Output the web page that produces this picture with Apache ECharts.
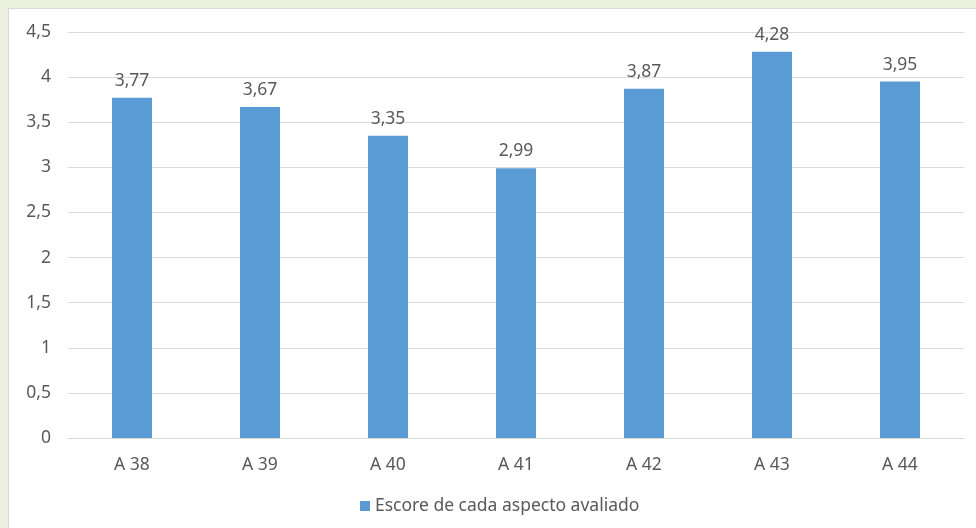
<!DOCTYPE html>
<html>
<head>
<meta charset="utf-8">
<script src="https://cdn.jsdelivr.net/npm/echarts@6/dist/echarts.min.js"></script>
<style>
  html, body { margin: 0; padding: 0; width: 976px; height: 528px; overflow: hidden; background: #ebf1de; }
  #panel { position: absolute; left: 8px; top: 8px; width: 980px; height: 540px; background: #ffffff; border: 1px solid #d9d9d9; }
  #chart { position: absolute; left: 0; top: 0; width: 976px; height: 528px; }
</style>
</head>
<body>
<div id="panel"></div>
<div id="chart"></div>
<script>
// Score of each evaluated aspect
const categories = ['A 38', 'A 39', 'A 40', 'A 41', 'A 42', 'A 43', 'A 44'];
const scores = [3.77, 3.67, 3.35, 2.99, 3.87, 4.28, 3.95];
const seriesName = 'Escore de cada aspecto avaliado';

const textColor = '#595959';
const fontFamily = '"Noto Sans", "Open Sans", sans-serif';
const fontSize = 17.5;
const comma = v => String(v).replace('.', ',');

const chart = echarts.init(document.getElementById('chart'), null, { renderer: 'canvas' });
chart.setOption({
  backgroundColor: 'transparent',
  animation: false,
  textStyle: { fontFamily: fontFamily },
  grid: { left: 68, top: 32, width: 896, height: 406, containLabel: false },
  legend: {
    left: 355,
    top: 492,
    itemWidth: 10,
    itemHeight: 10,
    itemGap: 10,
    icon: 'rect',
    textStyle: { color: textColor, fontSize: fontSize, fontFamily: fontFamily },
    data: [seriesName]
  },
  xAxis: {
    type: 'category',
    data: categories,
    axisLine: { lineStyle: { color: '#d9d9d9', width: 1 } },
    axisTick: { show: false },
    axisLabel: { color: textColor, fontSize: fontSize, margin: 18, fontFamily: fontFamily }
  },
  yAxis: {
    type: 'value',
    min: 0,
    max: 4.5,
    interval: 0.5,
    axisLine: { show: false },
    axisTick: { show: false },
    splitLine: { lineStyle: { color: '#d9d9d9', width: 1 } },
    axisLabel: { color: textColor, fontSize: fontSize, margin: 17, fontFamily: fontFamily, formatter: v => comma(v) }
  },
  series: [{
    name: seriesName,
    type: 'bar',
    data: scores,
    barWidth: 40,
    itemStyle: { color: '#5b9bd5' },
    label: {
      show: true,
      position: 'top',
      distance: 8,
      color: textColor,
      fontSize: fontSize,
      fontFamily: fontFamily,
      formatter: p => comma(p.value)
    }
  }]
});
</script>
</body>
</html>
